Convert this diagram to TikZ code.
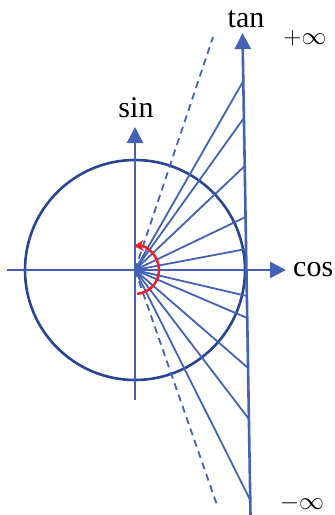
\documentclass[tikz,border=0pt]{standalone}
\usepackage{fontspec}
\setmainfont{Liberation Serif}
\usetikzlibrary{arrows.meta,calc}
\definecolor{axblue}{HTML}{4462B4}
\definecolor{circblue}{HTML}{2A4494}
\definecolor{arcred}{HTML}{E8202A}
\begin{document}
\begin{tikzpicture}[x=1pt,y=-1pt,
  axis/.style={draw=axblue, line width=2.6pt, -{Triangle[length=16pt,width=16pt]}},
  ray/.style={draw=axblue, line width=1.8pt},
  dray/.style={ray, dash pattern=on 7pt off 5pt},
  lbl/.style={font=\fontsize{30}{32}\selectfont, inner sep=0pt},
  inf/.style={font=\fontsize{24}{26}\selectfont, inner sep=0pt}]
\useasboundingbox (0,0) rectangle (335,515);
\coordinate (O) at (135,270);
% circle
\draw[circblue, line width=2.6pt] (O) circle[radius=110pt];
% rays to tan line
\coordinate (p1) at (243.3,81);
\coordinate (p2) at (243.9,118);
\coordinate (p3) at (244.7,166);
\coordinate (p4) at (245.6,217);
\coordinate (p5) at (246.1,249);
\coordinate (p6) at (246.9,296);
\coordinate (p7) at (247.2,318);
\coordinate (p8) at (248.1,368);
\coordinate (p9) at (248.9,419);
\coordinate (p10) at (250.2,500);
\foreach \p in {p1,p2,p3,p4,p5,p6,p7,p8,p9,p10}
  \draw[ray] (O) -- (\p);
% dashed asymptote directions
\coordinate (du) at (213,37);
\coordinate (dd) at (217,505);
\draw[dray] (O) -- (du);
\draw[dray] (O) -- (dd);
% axes
\coordinate (xl) at (7,270);
\coordinate (xr) at (286,270);
\draw[axis] (xl) -- (xr);
\coordinate (yb) at (135,400);
\coordinate (yt) at (135,127);
\draw[axis] (yb) -- (yt);
\coordinate (tb) at (250.5,515);
\coordinate (tt) at (242.5,33);
\draw[axis] (tb) -- (tt);
% red arc
\draw[arcred, line width=2.6pt, -{Stealth[length=10pt,width=11pt]}]
  (O) ++(-85:24pt) arc[start angle=-85, end angle=93, radius=24pt];
% labels
\node[lbl, anchor=base] (sinl) at (136,117) {sin};
\node[lbl, anchor=base] (tanl) at (246,27) {tan};
\node[lbl, anchor=base west] (cosl) at (293,276) {cos};
\node[inf] (pinf) at (305,38) {$+\infty$};
\node[inf] (minf) at (302,503) {$-\infty$};
\end{tikzpicture}
\end{document}
